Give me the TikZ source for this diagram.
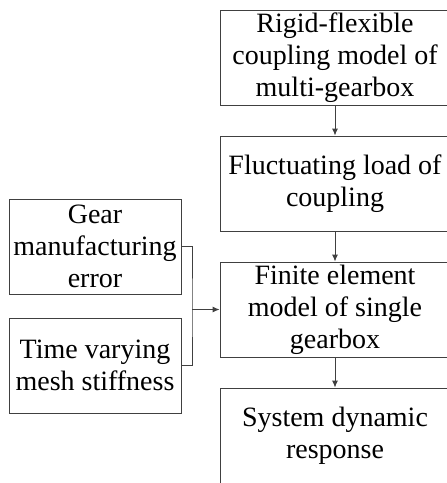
\documentclass[tikz,border=0pt]{standalone}
\usepackage{fontspec}
\setmainfont{Liberation Serif}
\usetikzlibrary{positioning,arrows.meta}

\begin{document}
\begin{tikzpicture}[x=1pt,y=-1pt,node distance=126pt,on grid,>={Latex[length=7pt,width=6pt]},
  line/.style={draw=black!75,line width=0.9pt},
  box/.style={line,minimum width=230pt,minimum height=95pt,
    align=center,inner sep=0pt,font=\fontsize{28}{32}\selectfont},
  inbox/.style={box,minimum width=172pt}]
 \useasboundingbox (0,0) rectangle (447,483);
 \node[box] (rigid) at (335,57.5) {Rigid-flexible\\coupling model of\\multi-gearbox};
 \node[box] (fluct) [below=of rigid] {Fluctuating load of\\coupling};
 \node[box] (fem) [below=of fluct] {Finite element\\model of single\\gearbox};
 \node[box] (resp) [below=of fem] {System dynamic\\response};
 \node[inbox] (error) at (95,246.5) {Gear\\manufacturing\\error};
 \node[inbox] (stiff) [below=119pt of error] {Time varying\\mesh stiffness};
 \coordinate (join) at (192,309.5);
 \draw[line,->] (rigid) -- (fluct);
 \draw[line,->] (fluct) -- (fem);
 \draw[line,->] (fem) -- (resp);
 \draw[line] (error.east) -| (join) |- (stiff.east);
 \draw[line,->] (join) -- (fem);
\end{tikzpicture}
\end{document}
